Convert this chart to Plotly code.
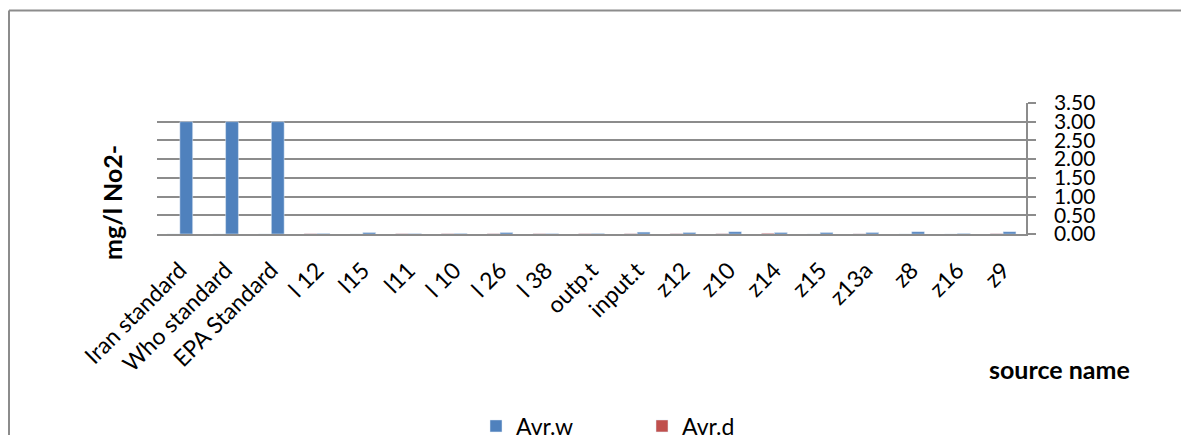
import plotly.graph_objects as go

categories = ["Iran standard", "Who standard", "EPA Standard", "l 12", "l15", "l11", "l 10",
              "l 26", "l 38", "outp.t", "input.t", "z12", "z10", "z14", "z15", "z13a", "z8", "z16", "z9"]
avr_w = [3.0, 3.0, 3.0, 0.015, 0.04, 0.01, 0.015, 0.04, 0.01, 0.015, 0.05, 0.04, 0.06, 0.04, 0.04, 0.04, 0.06, 0.015, 0.06]
avr_d = [0, 0, 0, 0.01, 0.0, 0.01, 0.01, 0.01, 0.01, 0.01, 0.01, 0.01, 0.01, 0.02, 0.0, 0.005, 0.0, 0.0, 0.01]

FONT = "Lato"
OFF = 8  # browser body margin
W, H = 1189 - 2 * OFF, 443 - 2 * OFF
# plot area in page pixels
L, R, T, B = 157, 1026, 103, 234
pw, ph = R - L, B - T


def px(x):
    return (x - L) / pw


def py(y):
    return (B - y) / ph


fig = go.Figure()
fig.add_trace(go.Bar(name="Avr.d", x=categories, y=avr_d, marker_color="#C0504D"))
fig.add_trace(go.Bar(name="Avr.w", x=categories, y=avr_w, marker_color="#4F81BD"))

fig.update_layout(
    width=W, height=H,
    margin=dict(l=L - OFF, r=W - (R - OFF), t=T - OFF, b=H - (B - OFF), autoexpand=False),
    paper_bgcolor="white", plot_bgcolor="white",
    barmode="group", bargap=0.44, bargroupgap=0,
    font=dict(family=FONT, size=17, color="black"),
    showlegend=True,
    legend=dict(orientation="h", traceorder="reversed", x=px(642), xanchor="center",
                y=py(426), yanchor="middle", font=dict(size=23), entrywidth=121,
                itemwidth=30),
)
fig.update_xaxes(showline=True, linecolor="#8C8C8C", linewidth=1.5, ticks="",
                 tickangle=-45, tickfont=dict(size=23), showgrid=False,
                 ticklabelstandoff=12)
fig.update_yaxes(side="right", range=[0, 3.5], dtick=0.5, tickformat=".2f",
                 showline=True, linecolor="#8C8C8C", linewidth=1.5,
                 ticks="outside", ticklen=8, tickcolor="#8C8C8C", tickwidth=1.5,
                 ticklabelstandoff=14,
                 showgrid=True, gridcolor="#8C8C8C", gridwidth=1.5,
                 tickfont=dict(size=21), zeroline=False)

fig.add_annotation(text="<b>mg/l No2-</b>", textangle=-90, xref="paper", yref="paper",
                   x=px(112), y=py(203), xanchor="center", yanchor="middle",
                   showarrow=False, font=dict(size=25))
fig.add_annotation(text="<b>source name</b>", xref="paper", yref="paper",
                   x=px(1059), y=py(369), xanchor="center", yanchor="middle",
                   showarrow=False, font=dict(size=25))

# outer chart frame (top and left edges visible)
fig.add_shape(type="line", xref="paper", yref="paper", x0=px(9), y0=py(10.5), x1=px(1200), y1=py(10.5),
              line=dict(color="#8C8C8C", width=2))
fig.add_shape(type="line", xref="paper", yref="paper", x0=px(9), y0=py(10.5), x1=px(9), y1=py(460),
              line=dict(color="#8C8C8C", width=2))

fig.write_html("out.html")
